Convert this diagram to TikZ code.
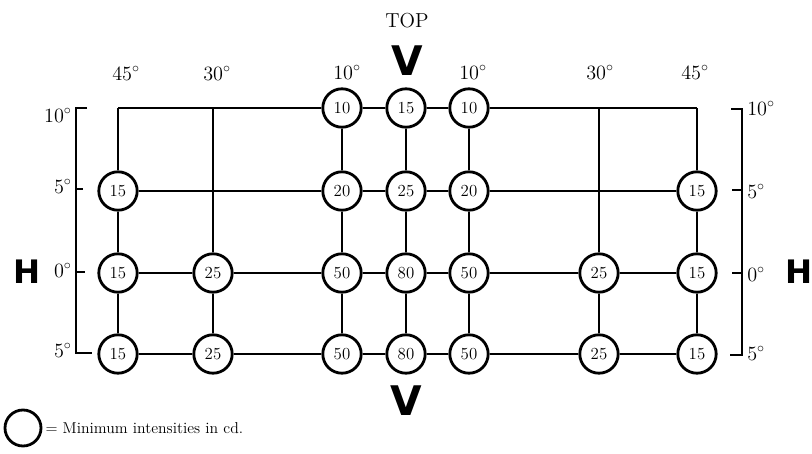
\documentclass[tikz,border=0pt]{standalone}
\usepackage{fontspec}
\newfontfamily\heavyfont{DejaVu Sans}
\usepackage{tikz}
\usetikzlibrary{positioning}

\tikzset{
  lamp/.style={circle,draw,line width=2pt,fill=white,minimum size=0.96cm,inner sep=0pt,font=\large},
  gridline/.style={line width=1.3pt},
  mainline/.style={line width=2.1pt},
  bracket/.style={line width=1.3pt},
  angle/.style={font=\Large,inner sep=0pt},
  axis/.style={font=\heavyfont\bfseries,inner sep=0pt}
}

\begin{document}
\begin{tikzpicture}[x=0.025cm,y=-0.025cm]
      \useasboundingbox (0,0) rectangle (812,454);

      % corners of the top line
      \coordinate (a1) at (118,108);
      \coordinate (a2) at (213,108);
      \coordinate (a6) at (599,108);
      \coordinate (a7) at (697,108);

      % 10 deg up
      \node[lamp] (a3) at (342,108) {10};
      \node[lamp] (a4) at (406,108) {15};
      \node[lamp] (a5) at (469,108) {10};

      % 5 deg up
      \node[lamp] (b1) at (118,191) {15};
      \node[lamp] (b3) at (342,191) {20};
      \node[lamp] (b4) at (406,191) {25};
      \node[lamp] (b5) at (469,191) {20};
      \node[lamp] (b7) at (697,191) {15};

      % 0 deg
      \node[lamp] (c1) at (118,273) {15};
      \node[lamp] (c2) at (213,273) {25};
      \node[lamp] (c3) at (342,273) {50};
      \node[lamp] (c4) at (406,273) {80};
      \node[lamp] (c5) at (469,273) {50};
      \node[lamp] (c6) at (599,273) {25};
      \node[lamp] (c7) at (697,273) {15};

      % 5 deg down
      \node[lamp] (d1) at (118,354) {15};
      \node[lamp] (d2) at (213,354) {25};
      \node[lamp] (d3) at (342,354) {50};
      \node[lamp] (d4) at (406,354) {80};
      \node[lamp] (d5) at (469,354) {50};
      \node[lamp] (d6) at (599,354) {25};
      \node[lamp] (d7) at (697,354) {15};

      % rows
      \draw[gridline] (a1) -- (a2) -- (a3) -- (a4) -- (a5) -- (a6) -- (a7);
      \draw[gridline] (b1) -- (b3) -- (b4) -- (b5) -- (b7);
      \draw[mainline] (c1) -- (c2) -- (c3) -- (c4) -- (c5) -- (c6) -- (c7);
      \draw[gridline] (d1) -- (d2) -- (d3) -- (d4) -- (d5) -- (d6) -- (d7);

      % columns
      \draw[gridline] (a1) -- (b1) -- (c1) -- (d1);
      \draw[gridline] (a2) -- (c2) -- (d2);
      \draw[gridline] (a3) -- (b3) -- (c3) -- (d3);
      \draw[gridline] (a4) -- (b4) -- (c4) -- (d4);
      \draw[gridline] (a5) -- (b5) -- (c5) -- (d5);
      \draw[gridline] (a6) -- (c6) -- (d6);
      \draw[gridline] (a7) -- (b7) -- (c7) -- (d7);

      % brackets
      \draw[bracket] (87,108) -- (76,108) -- (76,353) -- (92,353);
      \draw[bracket] (76,189) -- (83,189);
      \draw[bracket] (76,272) -- (85,272);
      \draw[bracket] (731,109) -- (742,109) -- (742,355) -- (730,355);
      \draw[bracket] (742,190) -- (732,190);
      \draw[bracket] (742,273) -- (732,273);

      % angles
      \node[angle,anchor=base east] (l10) at (72,122) {$10^{\circ}$};
      \node[angle,anchor=base east] (l5u) at (72,193) {$5^{\circ}$};
      \node[angle,anchor=base east] (l0) at (72,277) {$0^{\circ}$};
      \node[angle,anchor=base east] (l5d) at (72,357) {$5^{\circ}$};
      \node[angle,anchor=base west] (r10) at (747,115) {$10^{\circ}$};
      \node[angle,anchor=base west] (r5u) at (747,198) {$5^{\circ}$};
      \node[angle,anchor=base west] (r0) at (747,281) {$0^{\circ}$};
      \node[angle,anchor=base west] (r5d) at (747,360) {$5^{\circ}$};

      \node[angle,anchor=base west] (t45l) at (112,80) {$45^{\circ}$};
      \node[angle,anchor=base west] (t30l) at (203,80) {$30^{\circ}$};
      \node[angle,anchor=base west] (t10l) at (333,79) {$10^{\circ}$};
      \node[angle,anchor=base west] (t10r) at (459,79) {$10^{\circ}$};
      \node[angle,anchor=base west] (t30r) at (586,79) {$30^{\circ}$};
      \node[angle,anchor=base west] (t45r) at (681,79) {$45^{\circ}$};

      % axis letters
      \node[angle,anchor=base] (top) at (407,27) {TOP};
      \node[axis,font=\heavyfont\bfseries\fontsize{29}{30}\selectfont,anchor=base] (vt) at (407,75) {V};
      \node[axis,font=\heavyfont\bfseries\fontsize{29}{30}\selectfont,anchor=base] (vb) at (406,415) {V};
      \node[axis,font=\heavyfont\bfseries\fontsize{23}{24}\selectfont,anchor=base] (hl) at (27,283) {H};
      \node[axis,font=\heavyfont\bfseries\fontsize{23}{24}\selectfont,anchor=base] (hr) at (799,283) {H};

      % legend
      \node[lamp,minimum size=0.9cm] (key) at (23,428) {};
      \node[font=\fontsize{11.2}{13}\selectfont,anchor=west,inner sep=0pt,right=2pt of key] (keytext) {= Minimum intensities in cd.};
\end{tikzpicture}
\end{document}
